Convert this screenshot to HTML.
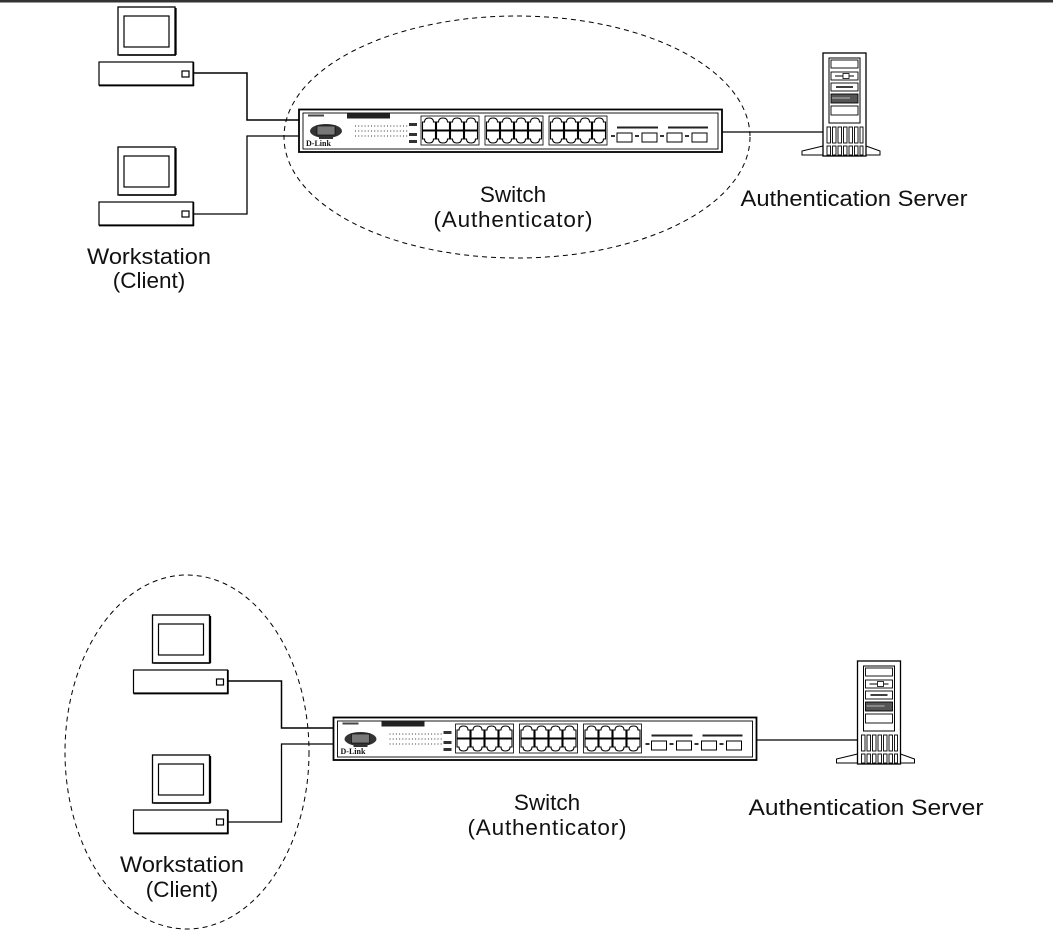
<!DOCTYPE html>
<html><head><meta charset="utf-8"><style>
html,body{margin:0;padding:0;background:#fff;}
svg{display:block;}
text{font-family:"Liberation Sans",Arial,sans-serif;fill:#111;}
</style></head><body>
<svg width="1053" height="932" viewBox="0 0 1053 932" xmlns="http://www.w3.org/2000/svg">
<defs>
<g id="ws">
  <rect x="118" y="7" width="57" height="48" fill="#fff" stroke="#000" stroke-width="1.3"/>
  <line x1="119" y1="55" x2="176" y2="55" stroke="#000" stroke-width="1.5"/>
  <line x1="176" y1="8" x2="176" y2="55" stroke="#000" stroke-width="1.3"/>
  <rect x="124" y="16" width="45" height="31" fill="#fff" stroke="#000" stroke-width="1.2"/>
  <rect x="99" y="62" width="94" height="23" fill="#fff" stroke="#000" stroke-width="1.2"/>
  <line x1="99" y1="85.5" x2="194" y2="85.5" stroke="#000" stroke-width="1.8"/>
  <line x1="193.5" y1="62" x2="193.5" y2="86" stroke="#000" stroke-width="1.5"/>
  <rect x="182" y="71" width="7" height="6" fill="#fff" stroke="#000" stroke-width="1.2"/>
</g>
<g id="port">
  <path d="M0 13 V5 H2 Q2 1 6.5 1 Q11 1 11 5 H13 V13 Z" fill="#fff" stroke="#000" stroke-width="1.1"/>
</g>
<g id="portd">
  <path d="M0 0 V8 H2 Q2 12 6.5 12 Q11 12 11 8 H13 V0 Z" fill="#fff" stroke="#000" stroke-width="1.1"/>
</g>
<g id="pgroup">
  <rect x="0" y="0" width="58" height="29" fill="#fff" stroke="#000" stroke-width="0.8"/>
  <use href="#port" x="1.5" y="1"/><use href="#port" x="15.5" y="1"/><use href="#port" x="29.5" y="1"/><use href="#port" x="43.5" y="1"/>
  <use href="#portd" x="1.5" y="15"/><use href="#portd" x="15.5" y="15"/><use href="#portd" x="29.5" y="15"/><use href="#portd" x="43.5" y="15"/>
</g>
<g id="sw">
  <rect x="299" y="109.5" width="423" height="42.5" fill="#fff" stroke="#000" stroke-width="1.8"/>
  <rect x="303" y="113" width="415" height="36" fill="#fff" stroke="#000" stroke-width="0.9"/>
  <rect x="347" y="113.5" width="43" height="5" fill="#222"/>
  <rect x="308" y="114.5" width="16" height="2" fill="#444"/>
  <ellipse cx="326" cy="131" rx="16" ry="7" fill="#333"/>
  <rect x="317" y="126" width="18" height="9" fill="#777" stroke="#000" stroke-width="0.6"/>
  <rect x="319" y="137" width="14" height="2" fill="#333"/>
  <text x="306" y="146" font-size="8" font-weight="bold" style="font-family:'Liberation Serif',serif">D-Link</text>
  <g stroke="#333" stroke-width="1" stroke-dasharray="1 2.2">
    <line x1="355" y1="126" x2="408" y2="126"/>
    <line x1="355" y1="131" x2="408" y2="131"/>
    <line x1="355" y1="136" x2="408" y2="136"/>
  </g>
  <g fill="#333"><rect x="409" y="123" width="8" height="3"/><rect x="409" y="133" width="8" height="3"/><rect x="409" y="140" width="8" height="3"/></g>
  <use href="#pgroup" x="421" y="116"/>
  <use href="#pgroup" x="485" y="116"/>
  <use href="#pgroup" x="549" y="116"/>
  <rect x="617" y="126.5" width="41" height="2" fill="#222"/>
  <rect x="668" y="126.5" width="40" height="2" fill="#222"/>
  <g fill="#fff" stroke="#000" stroke-width="1">
    <rect x="617" y="133" width="15" height="9"/><rect x="642" y="133" width="15" height="9"/>
    <rect x="667" y="133" width="15" height="9"/><rect x="692" y="133" width="15" height="9"/>
  </g>
  <g fill="#333"><rect x="611" y="135" width="4" height="2"/><rect x="635" y="135" width="4" height="2"/><rect x="660" y="135" width="4" height="2"/><rect x="685" y="135" width="4" height="2"/></g>
</g>
<g id="srv">
  <polygon points="823,146 802,151 802,155 880,155 880,151 866,146" fill="#fff" stroke="#000" stroke-width="1"/>
  <rect x="823" y="53" width="43" height="103" fill="#fff" stroke="#000" stroke-width="1.3"/>
  <rect x="829" y="58" width="31" height="65" fill="#fff" stroke="#000" stroke-width="1"/>
  <rect x="831" y="60" width="27" height="8" fill="#fff" stroke="#000" stroke-width="0.9"/>
  <rect x="831" y="72" width="27" height="8" fill="#fff" stroke="#000" stroke-width="0.9"/>
  <line x1="835" y1="76" x2="854" y2="76" stroke="#000"/><rect x="843" y="73.5" width="6" height="5" fill="#fff" stroke="#000" stroke-width="0.8"/>
  <rect x="831" y="83" width="27" height="8" fill="#fff" stroke="#000" stroke-width="0.9"/>
  <line x1="836" y1="87" x2="853" y2="87" stroke="#000" stroke-width="1.4"/>
  <rect x="831" y="94" width="27" height="9" fill="#555" stroke="#000" stroke-width="0.9"/>
  <line x1="832" y1="98" x2="850" y2="98" stroke="#ddd" stroke-width="0.8"/>
  <rect x="831" y="106" width="27" height="9" fill="#fff" stroke="#000" stroke-width="0.9"/>
  <g fill="#fff" stroke="#000" stroke-width="0.9">
    <rect x="827" y="127" width="3.5" height="16"/><rect x="832.5" y="127" width="3.5" height="16"/><rect x="838" y="127" width="3.5" height="16"/><rect x="843.5" y="127" width="3.5" height="16"/><rect x="849" y="127" width="3.5" height="16"/><rect x="854.5" y="127" width="3.5" height="16"/><rect x="860" y="127" width="3" height="16"/>
    <rect x="827" y="146" width="3.5" height="9"/><rect x="832.5" y="146" width="3.5" height="9"/><rect x="838" y="146" width="3.5" height="9"/><rect x="843.5" y="146" width="3.5" height="9"/><rect x="849" y="146" width="3.5" height="9"/><rect x="854.5" y="146" width="3.5" height="9"/><rect x="860" y="146" width="3" height="9"/>
  </g>
</g>
<g id="scene">
  <use href="#ws"/>
  <use href="#ws" y="140"/>
  <polyline points="193,73 247,73 247,120 299,120" fill="none" stroke="#000" stroke-width="1.5"/>
  <polyline points="193,214 247,214 247,136 299,136" fill="none" stroke="#000" stroke-width="1.3"/>
  <line x1="722" y1="132" x2="823" y2="132" stroke="#000" stroke-width="1.2"/>
  <use href="#sw"/>
  <use href="#srv"/>
</g>
</defs>
<rect x="0" y="0" width="1053" height="2.5" fill="#333"/>

<use href="#scene"/>
<ellipse cx="517" cy="137" rx="233" ry="121" fill="none" stroke="#000" stroke-width="1" stroke-dasharray="5 4"/>
<text x="513" y="202" font-size="22.5" text-anchor="middle">Switch</text>
<text x="513" y="227" font-size="22.5" text-anchor="middle" textLength="159">(Authenticator)</text>
<text x="854" y="206" font-size="22.5" text-anchor="middle" textLength="227" lengthAdjust="spacingAndGlyphs">Authentication Server</text>
<text x="149" y="264" font-size="22.5" text-anchor="middle" textLength="124" lengthAdjust="spacingAndGlyphs">Workstation</text>
<text x="149" y="288" font-size="22.5" text-anchor="middle">(Client)</text>

<use href="#scene" x="34.5" y="608"/>
<ellipse cx="187" cy="752" rx="122" ry="177" fill="none" stroke="#000" stroke-width="1" stroke-dasharray="5 4"/>
<text x="547" y="810" font-size="22.5" text-anchor="middle">Switch</text>
<text x="547" y="835" font-size="22.5" text-anchor="middle" textLength="159">(Authenticator)</text>
<text x="866" y="815" font-size="22.5" text-anchor="middle" textLength="235" lengthAdjust="spacingAndGlyphs">Authentication Server</text>
<text x="182" y="872" font-size="22.5" text-anchor="middle" textLength="124" lengthAdjust="spacingAndGlyphs">Workstation</text>
<text x="182" y="897" font-size="22.5" text-anchor="middle">(Client)</text>
</svg>
</body></html>
